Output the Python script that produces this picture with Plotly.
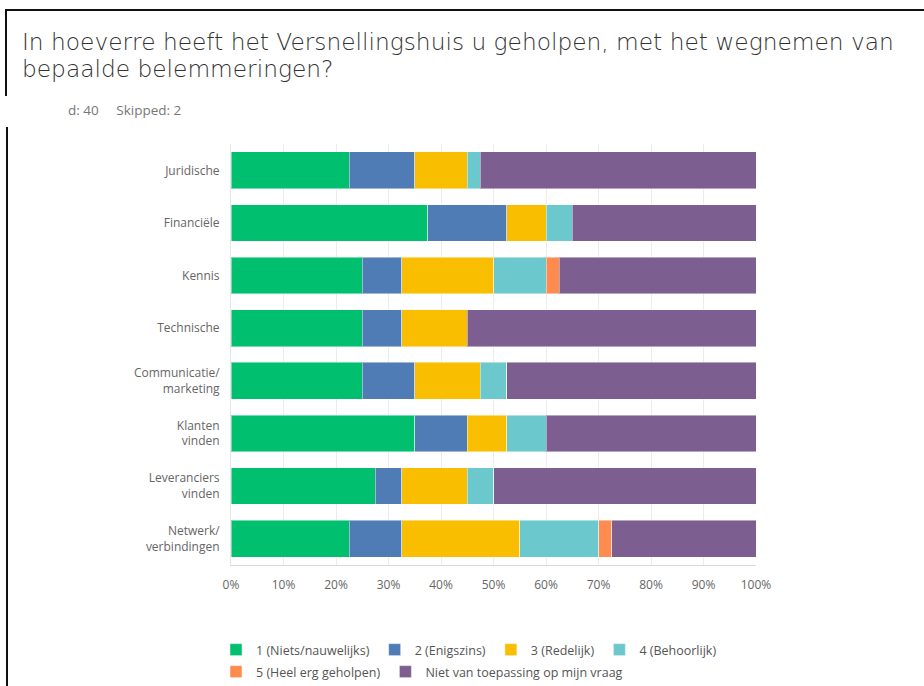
import plotly.graph_objects as go

categories = ["Juridische", "Financiële", "Kennis", "Technische",
              "Communicatie/<br>marketing", "Klanten<br>vinden",
              "Leveranciers<br>vinden", "Netwerk/<br>verbindingen"]

series_names = ["1 (Niets/nauwelijks)", "2 (Enigszins)", "3 (Redelijk)",
                "4 (Behoorlijk)", "5 (Heel erg geholpen)",
                "Niet van toepassing op mijn vraag"]

s1 = [22.5, 37.5, 25.0, 25.0, 25.0, 35.0, 27.5, 22.5]
s2 = [12.5, 15.0, 7.5, 7.5, 10.0, 10.0, 5.0, 10.0]
s3 = [10.0, 7.5, 17.5, 12.5, 12.5, 7.5, 12.5, 22.5]
s4 = [2.5, 5.0, 10.0, 0.0, 5.0, 7.5, 5.0, 15.0]
s5 = [0.0, 0.0, 2.5, 0.0, 0.0, 0.0, 0.0, 2.5]
s6 = [52.5, 35.0, 37.5, 55.0, 47.5, 40.0, 50.0, 27.5]

tick_vals = [0, 10, 20, 30, 40, 50, 60, 70, 80, 90, 100]
tick_text = ["0%", "10%", "20%", "30%", "40%", "50%", "60%", "70%", "80%", "90%", "100%"]

colors = ["#00BF6F", "#507CB6", "#F9BE00", "#6BC8CD", "#FF8B4F", "#7D5E90"]
legend_groups = ["legend", "legend", "legend", "legend", "legend2", "legend2"]

W, H = 924, 686
L, R, T, B = 231, 756, 144, 565


def px(x):
    return (x - L) / (R - L)


def py(y):
    return (B - y) / (B - T)


fig = go.Figure()
for name, vals, col, lg in zip(series_names, [s1, s2, s3, s4, s5, s6], colors, legend_groups):
    fig.add_trace(go.Bar(
        y=categories, x=vals, name=name, orientation="h", legend=lg,
        marker=dict(color=col, line=dict(color="rgba(255,255,255,0.45)", width=1)),
    ))

legend_common = dict(orientation="h", xanchor="left", yanchor="middle",
                     traceorder="normal", font=dict(size=12.5, color="#555"),
                     itemclick=False, itemdoubleclick=False, bgcolor="rgba(0,0,0,0)")

fig.update_layout(
    width=W, height=H,
    margin=dict(l=L, r=W - R, t=T, b=H - B, autoexpand=False),
    barmode="stack", bargap=0.30,
    plot_bgcolor="white", paper_bgcolor="white",
    font=dict(family="Open Sans", color="#666"),
    xaxis=dict(range=[0, 100], tickvals=tick_vals, ticktext=tick_text,
               showgrid=True, gridcolor="#ececec", gridwidth=1,
               showline=True, linecolor="#d9d9d9", linewidth=1,
               zeroline=False, ticks="outside", ticklen=9, tickcolor="white",
               tickfont=dict(size=12, color="#666"), fixedrange=True),
    yaxis=dict(autorange="reversed", showgrid=False,
               showline=True, linecolor="#e6e6e6", linewidth=1,
               ticks="outside", ticklen=8, tickcolor="white",
               tickfont=dict(size=12, color="#666")),
    legend=dict(x=px(216), y=py(650), **legend_common),
    legend2=dict(x=px(216), y=py(672), **legend_common),
    showlegend=True,
)

title_font = dict(family="DejaVu Sans", size=23.3, color="#333", weight=300)
fig.add_annotation(xref="paper", yref="paper", x=px(20), y=py(41), xanchor="left",
                   yanchor="middle", showarrow=False, align="left",
                   text="In hoeverre heeft het Versnellingshuis u geholpen, met het wegnemen van",
                   font=title_font)
fig.add_annotation(xref="paper", yref="paper", x=px(20), y=py(68), xanchor="left",
                   yanchor="middle", showarrow=False, align="left",
                   text="bepaalde belemmeringen?", font=title_font)
fig.add_annotation(xref="paper", yref="paper", x=px(66), y=py(110), xanchor="left",
                   yanchor="middle", showarrow=False,
                   text="d: 40&nbsp;&nbsp;&nbsp;&nbsp;&nbsp;Skipped: 2",
                   font=dict(family="Open Sans", size=13.5, color="#777"))

border = dict(color="#111", width=2)
fig.add_shape(type="line", xref="paper", yref="paper", x0=px(5), x1=px(924), y0=py(10), y1=py(10), line=border)
fig.add_shape(type="line", xref="paper", yref="paper", x0=px(6), x1=px(6), y0=py(10), y1=py(96), line=border)
fig.add_shape(type="line", xref="paper", yref="paper", x0=px(7), x1=px(7), y0=py(127), y1=py(686), line=border)

fig.write_html("out.html", config={"displayModeBar": False},
               post_script="document.body.style.margin='0';")
